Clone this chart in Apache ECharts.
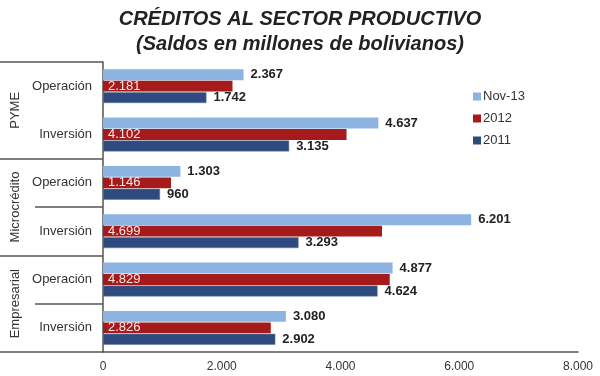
<!DOCTYPE html>
<html>
<head>
<meta charset="utf-8">
<script src="https://cdn.jsdelivr.net/npm/echarts@6/dist/echarts.min.js"></script>
<style>
  html, body { margin: 0; padding: 0; background: #fff; }
  #chart { width: 600px; height: 376px; }
</style>
</head>
<body>
<div id="chart"></div>
<script>
// categorías (grupo|tipo de crédito)
const groups = ["PYME", "Microcrédito", "Empresarial"];
const categories = [
  "PYME|Operación", "PYME|Inversión",
  "Microcrédito|Operación", "Microcrédito|Inversión",
  "Empresarial|Operación", "Empresarial|Inversión"
];
const nov13 = [2367, 4637, 1303, 6201, 4877, 3080];
const y2012 = [2181, 4102, 1146, 4699, 4829, 2826];
const y2011 = [1742, 3135, 960, 3293, 4624, 2902];
const xTicks = [0, 2000, 4000, 6000, 8000];

const fmt = (v) => String(v).replace(/\B(?=(\d{3})+(?!\d))/g, ".");
const FONT = "Liberation Sans, Arial, sans-serif";

const chart = echarts.init(document.getElementById("chart"));

const outLabel = {
  show: true,
  position: "right",
  distance: 7,
  fontFamily: FONT,
  fontSize: 13,
  fontWeight: "bold",
  color: "#222",
  formatter: (p) => fmt(p.value),
};

const option = {
  animation: false,
  title: {
    text: "CRÉDITOS AL SECTOR PRODUCTIVO\n(Saldos en millones de bolivianos)",
    left: "center",
    top: 2,
    textStyle: {
      fontFamily: FONT,
      fontSize: 20,
      fontWeight: "bold",
      fontStyle: "italic",
      color: "#222",
      lineHeight: 25,
    },
  },
  legend: {
    orient: "vertical",
    left: 468,
    top: 85,
    itemWidth: 8,
    itemHeight: 8,
    itemGap: 9,
    icon: "rect",
    itemStyle: { borderWidth: 0 },
    textStyle: { fontFamily: FONT, fontSize: 13, color: "#333", padding: [0, 0, 0, -3] },
    data: ["Nov-13", "2012", "2011"],
  },
  grid: { left: 103, right: 22, top: 62, bottom: 24 },
  xAxis: {
    type: "value",
    min: xTicks[0],
    max: xTicks[xTicks.length - 1],
    interval: 2000,
    splitLine: { show: false },
    axisLine: { show: true, lineStyle: { color: "#555", width: 1.5 } },
    axisTick: { show: false },
    axisLabel: {
      fontFamily: FONT,
      fontSize: 12,
      color: "#333",
      margin: 9,
      formatter: (v) => fmt(v),
    },
  },
  yAxis: [
    {
      type: "category",
      inverse: true,
      data: categories,
      axisLine: { show: true, lineStyle: { color: "#555", width: 1.5 } },
      axisTick: {
        show: true,
        length: 68,
        lineStyle: { color: "#555", width: 1.5 },
        interval: (i, v) => v === "Microcrédito|Inversión" || v === "Empresarial|Inversión",
      },
      axisLabel: {
        fontFamily: FONT,
        fontSize: 13,
        color: "#333",
        margin: 11,
        formatter: (v) => v.split("|")[1],
      },
    },
    {
      type: "category",
      inverse: true,
      position: "left",
      offset: 103,
      data: groups,
      axisLine: { show: false },
      axisTick: {
        show: true,
        inside: true,
        length: 103,
        lineStyle: { color: "#555", width: 1.5 },
      },
      axisLabel: {
        inside: true,
        rotate: 90,
        margin: 9,
        fontFamily: FONT,
        fontSize: 13,
        color: "#333",
      },
    },
  ],
  series: [
    {
      name: "Nov-13",
      type: "bar",
      data: nov13,
      barGap: "5%",
      barCategoryGap: "30%",
      itemStyle: { color: "#8db3e2" },
      label: outLabel,
    },
    {
      name: "2012",
      type: "bar",
      data: y2012,
      itemStyle: { color: "#a51b1b" },
      label: {
        show: true,
        position: "insideLeft",
        distance: 5,
        fontFamily: FONT,
        fontSize: 13,
        color: "#f7e8e8",
        formatter: (p) => fmt(p.value),
      },
    },
    {
      name: "2011",
      type: "bar",
      data: y2011,
      itemStyle: { color: "#2f4a7e", borderColor: "#6b7a93", borderWidth: 0.5 },
      label: outLabel,
    },
  ],
};

chart.setOption(option);
</script>
</body>
</html>
